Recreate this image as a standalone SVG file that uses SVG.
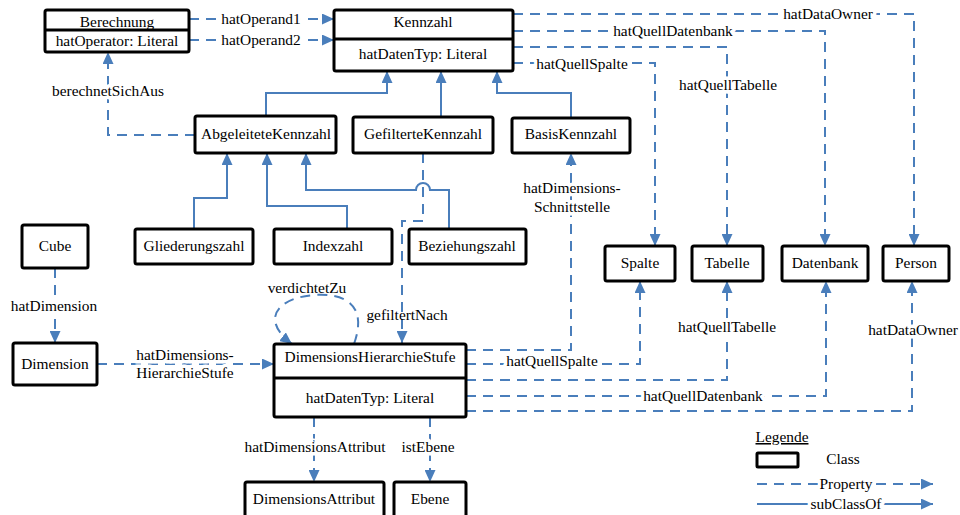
<svg xmlns="http://www.w3.org/2000/svg" width="960" height="515" viewBox="0 0 960 515">
<style>
text{font-family:'Liberation Serif','Times New Roman',Times,Tinos,'Nimbus Roman','Nimbus Roman No9 L',FreeSerif,'Noto Serif','DejaVu Serif',serif;font-size:15.4px;fill:#000;text-anchor:middle}
.box{fill:#fff;stroke:#000;stroke-width:3}
.div{stroke:#000;stroke-width:3}
.prop{fill:none;stroke:#4A7EBB;stroke-width:2;stroke-dasharray:10 7}
.sub{fill:none;stroke:#4A7EBB;stroke-width:2}
.lbl{stroke:#fff;stroke-width:7;paint-order:stroke;stroke-linejoin:round}
</style>
<defs>
<marker id="ah" markerUnits="userSpaceOnUse" markerWidth="12" markerHeight="11" refX="12" refY="5.5" orient="auto">
<path d="M0,0 L12,5.5 L0,11 z" fill="#4A7EBB"/>
</marker>
</defs>
<rect width="960" height="515" fill="#fff"/>
<g id="connectors">
<path class="prop" d="M189,19 H334" marker-end="url(#ah)"/>
<path class="prop" d="M189,40 H334" marker-end="url(#ah)"/>
<path class="prop" d="M195,135 H108 V52" marker-end="url(#ah)"/>
<path class="prop" d="M513,14 H914 V246" marker-end="url(#ah)"/>
<path class="prop" d="M513,31 H825 V246" marker-end="url(#ah)"/>
<path class="prop" d="M513,47 H727 V246" marker-end="url(#ah)"/>
<path class="prop" d="M513,63 H655 V246" marker-end="url(#ah)"/>
<path class="sub" d="M266,116 V93 H387 V71" marker-end="url(#ah)"/>
<path class="sub" d="M441,117 V71" marker-end="url(#ah)"/>
<path class="sub" d="M571,117 V93 H497 V71" marker-end="url(#ah)"/>
<path class="sub" d="M194,229 V198 H227 V153" marker-end="url(#ah)"/>
<path class="sub" d="M347,229 V206 H267 V153" marker-end="url(#ah)"/>
<path class="sub" d="M449,229 V190 H430 A7,7 0 0 0 416,190 H306 V153" marker-end="url(#ah)"/>
<path class="prop" d="M423,153 V221 H402 V343" marker-end="url(#ah)"/>
<path class="prop" d="M55,268 V343" marker-end="url(#ah)"/>
<path class="prop" d="M97,364 H274" marker-end="url(#ah)"/>
<path class="prop" d="M354,344 C368,305 345,293 315,295 C280,297 258,318 292,344" marker-end="url(#ah)"/>
<path class="prop" d="M466,350 H571 V153" marker-end="url(#ah)"/>
<path class="prop" d="M466,364 H640 V281" marker-end="url(#ah)"/>
<path class="prop" d="M466,380 H727 V281" marker-end="url(#ah)"/>
<path class="prop" d="M466,396 H826 V281" marker-end="url(#ah)"/>
<path class="prop" d="M466,411 H912 V281" marker-end="url(#ah)"/>
<path class="prop" d="M314,417 V482" marker-end="url(#ah)"/>
<path class="prop" d="M430,417 V482" marker-end="url(#ah)"/>
<text class="lbl" x="261" y="24">hatOperand1</text>
<text class="lbl" x="261" y="45">hatOperand2</text>
<text class="lbl" x="108" y="96">berechnetSichAus</text>
<text class="lbl" x="828" y="19">hatDataOwner</text>
<text class="lbl" x="673" y="36">hatQuellDatenbank</text>
<text class="lbl" x="728" y="90">hatQuellTabelle</text>
<text class="lbl" x="582" y="69">hatQuellSpalte</text>
<text class="lbl" x="572" y="193">hatDimensions-</text>
<text class="lbl" x="572" y="212">Schnittstelle</text>
<text x="307" y="293">verdichtetZu</text>
<text x="407" y="320">gefiltertNach</text>
<text class="lbl" x="54" y="311">hatDimension</text>
<text class="lbl" x="185" y="360">hatDimensions-</text>
<text class="lbl" x="185" y="378">HierarchieStufe</text>
<text class="lbl" x="552" y="366">hatQuellSpalte</text>
<text class="lbl" x="727" y="332">hatQuellTabelle</text>
<text class="lbl" x="913" y="335">hatDataOwner</text>
<text class="lbl" x="703" y="401">hatQuellDatenbank</text>
<text class="lbl" x="315" y="452">hatDimensionsAttribut</text>
<text class="lbl" x="428" y="452">istEbene</text>
</g>
<g id="Berechnung">
<rect class="box" x="45" y="10" width="144" height="42" rx="2"/>
<line class="div" x1="45" y1="30" x2="189" y2="30"/>
<text x="117" y="27">Berechnung</text>
<text x="117" y="46">hatOperator: Literal</text>
</g>
<g id="Kennzahl">
<rect class="box" x="334" y="10" width="179" height="61" rx="2"/>
<line class="div" x1="334" y1="39" x2="513" y2="39"/>
<text x="423" y="27">Kennzahl</text>
<text x="423" y="59">hatDatenTyp: Literal</text>
</g>
<g id="AbgeleiteteKennzahl">
<rect class="box" x="195" y="116" width="141" height="37" rx="2"/>
<text x="266" y="139">AbgeleiteteKennzahl</text>
</g>
<g id="GefilterteKennzahl">
<rect class="box" x="353" y="117" width="140" height="36" rx="2"/>
<text x="423" y="139">GefilterteKennzahl</text>
</g>
<g id="BasisKennzahl">
<rect class="box" x="512" y="118" width="118" height="35" rx="2"/>
<text x="571" y="139">BasisKennzahl</text>
</g>
<g id="Cube">
<rect class="box" x="22" y="225" width="66" height="43" rx="2"/>
<text x="55" y="251">Cube</text>
</g>
<g id="Gliederungszahl">
<rect class="box" x="135" y="229" width="118" height="35" rx="2"/>
<text x="194" y="251">Gliederungszahl</text>
</g>
<g id="Indexzahl">
<rect class="box" x="274" y="229" width="118" height="35" rx="2"/>
<text x="333" y="251">Indexzahl</text>
</g>
<g id="Beziehungszahl">
<rect class="box" x="409" y="229" width="117" height="35" rx="2"/>
<text x="467" y="251">Beziehungszahl</text>
</g>
<g id="Spalte">
<rect class="box" x="605" y="246" width="70" height="35" rx="2"/>
<text x="640" y="268">Spalte</text>
</g>
<g id="Tabelle">
<rect class="box" x="692" y="246" width="71" height="35" rx="2"/>
<text x="727" y="268">Tabelle</text>
</g>
<g id="Datenbank">
<rect class="box" x="782" y="246" width="86" height="35" rx="2"/>
<text x="825" y="268">Datenbank</text>
</g>
<g id="Person">
<rect class="box" x="883" y="246" width="66" height="35" rx="2"/>
<text x="916" y="268">Person</text>
</g>
<g id="Dimension">
<rect class="box" x="13" y="343" width="84" height="42" rx="2"/>
<text x="55" y="369">Dimension</text>
</g>
<g id="DimensionsHierarchieStufe">
<rect class="box" x="274" y="344" width="192" height="73" rx="2"/>
<line class="div" x1="274" y1="378" x2="466" y2="378"/>
<text x="370" y="362">DimensionsHierarchieStufe</text>
<text x="370" y="403">hatDatenTyp: Literal</text>
</g>
<g id="DimensionsAttribut">
<rect class="box" x="245" y="482" width="139" height="36" rx="2"/>
<text x="314" y="504">DimensionsAttribut</text>
</g>
<g id="Ebene">
<rect class="box" x="394" y="482" width="72" height="36" rx="2"/>
<text x="430" y="504">Ebene</text>
</g>
<g id="Legende">
<text x="782" y="442" text-decoration="underline">Legende</text>
<rect class="box" x="757" y="453" width="41" height="14" rx="1"/>
<text x="843" y="464">Class</text>
<path class="prop" d="M757,484 H933" marker-end="url(#ah)"/>
<path class="sub" d="M757,504 H933" marker-end="url(#ah)"/>
<text class="lbl" x="846" y="489">Property</text>
<text class="lbl" x="846" y="509">subClassOf</text>
</g>
</svg>
